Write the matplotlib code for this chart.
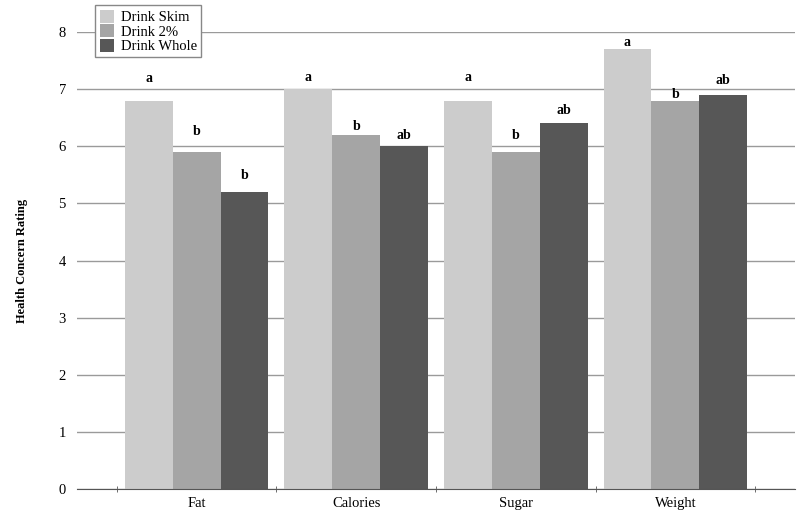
import matplotlib
matplotlib.use('Agg')  # no display
import matplotlib.pyplot as plt
import numpy as np

plt.rcParams['font.family'] = ['Liberation Serif', 'DejaVu Serif']

# Data
categories = ['Fat', 'Calories', 'Sugar', 'Weight']
series_names = ['Drink Skim', 'Drink 2%', 'Drink Whole']
skim = [6.8, 7.0, 6.8, 7.7]
two_pct = [5.9, 6.2, 5.9, 6.8]
whole = [5.2, 6.0, 6.4, 6.9]
series = [skim, two_pct, whole]

# significance letters and where they sit (data units)
letters = [['a', 'b', 'b'], ['a', 'b', 'ab'], ['a', 'b', 'ab'], ['a', 'b', 'ab']]
letter_y = [[7.19, 6.25, 5.48],
            [7.21, 6.35, 6.19],
            [7.21, 6.18, 6.63],
            [7.81, 6.90, 7.15]]

colors = ['#cccccc', '#a5a5a5', '#575757']

fig = plt.figure(figsize=(8, 5.16), dpi=100)
ax = fig.add_axes([0.09625, 0.0523, 0.8975, 0.8857])

x = np.arange(len(categories))
width = 0.3
for i, vals in enumerate(series):
    ax.bar(x + (i - 1) * width, vals, width, color=colors[i],
           label=series_names[i], zorder=2)
    for j, v in enumerate(vals):
        ax.text(x[j] + (i - 1) * width, letter_y[j][i], letters[j][i],
                ha='center', va='center', fontsize=10, fontweight='bold', zorder=3)

ax.set_xlim(-0.75, 3.75)
ax.set_ylim(0, 8)

# horizontal grid lines, drawn under the bars
ax.set_yticks(range(0, 9))
ax.yaxis.grid(True, color='#9a9a9a', linewidth=1, zorder=0)
ax.tick_params(axis='y', length=0, pad=8, labelsize=10.5)

ax.set_xticks(x)
ax.set_xticklabels(categories, fontsize=10.5)
ax.tick_params(axis='x', length=0, pad=6)
ax.set_xticks(np.arange(-0.5, len(categories)), minor=True)
ax.tick_params(axis='x', which='minor', length=5, direction='inout', color='#555555')

for side in ['top', 'right', 'left']:
    ax.spines[side].set_visible(False)
ax.spines['bottom'].set_color('#555555')
ax.spines['bottom'].set_zorder(4)

ax.set_ylabel('Health Concern Rating', fontsize=9, fontweight='bold', labelpad=22)

fig.legend(loc='upper left', bbox_to_anchor=(0.119, 0.99), fontsize=10.5,
           frameon=True, fancybox=False, edgecolor='#888888', framealpha=1,
           handlelength=1.0, handleheight=1.0, handletextpad=0.45,
           labelspacing=0.0, borderpad=0.3, borderaxespad=0)

fig.savefig('out.png', dpi=100)
